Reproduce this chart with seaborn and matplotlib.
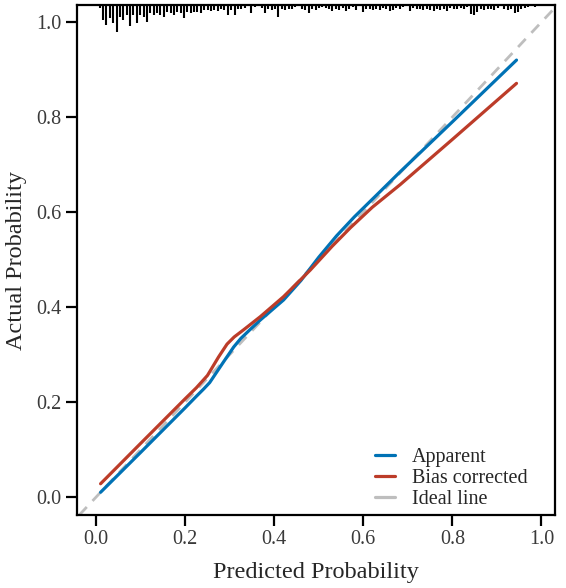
import numpy as np
import pandas as pd
import matplotlib
matplotlib.use('Agg')
import matplotlib.pyplot as plt
import seaborn as sns

# ── Data ─────────────────────────────────────────────────────────────────────
apparent_x = [0.010, 0.100, 0.200, 0.225, 0.242, 0.255, 0.285, 0.309, 0.325,
              0.345, 0.369, 0.421, 0.460, 0.500, 0.540, 0.580, 0.630, 0.683,
              0.800, 0.944]
apparent_y = [0.010, 0.094, 0.188, 0.212, 0.228, 0.241, 0.283, 0.316, 0.334,
              0.352, 0.373, 0.415, 0.456, 0.505, 0.550, 0.590, 0.636, 0.685,
              0.790, 0.920]

bias_x = [0.010, 0.100, 0.200, 0.225, 0.250, 0.275, 0.294, 0.310, 0.331,
          0.350, 0.369, 0.421, 0.481, 0.530, 0.571, 0.620, 0.683, 0.800,
          0.944]
bias_y = [0.028, 0.113, 0.207, 0.230, 0.256, 0.295, 0.322, 0.337, 0.352,
          0.366, 0.380, 0.422, 0.478, 0.528, 0.567, 0.610, 0.658, 0.753,
          0.871]

# spike histogram of predicted probabilities (top rug), bins from 0.008 to 0.985
rug_counts = [3, 15, 20, 13, 18, 27, 12, 15, 10, 21, 10, 18, 10, 12, 17, 8,
              10, 8, 10, 12, 7, 8, 10, 7, 8, 13, 7, 8, 7, 7, 8,
              5, 5, 6, 5, 6, 4, 5, 10, 5, 10, 4, 4, 3, 0, 8, 2, 0, 3, 8,
              4, 5, 4, 12, 4, 5, 4, 4, 2, 0, 4, 5, 8, 4, 5, 3, 2, 3, 4,
              6, 4, 5, 3, 6, 4, 2, 5, 0, 7, 4, 4, 5, 4, 5, 3, 4, 6, 5, 3,
              4, 2, 0, 6, 3, 4, 4, 5, 4, 5, 6, 4, 5, 4, 6, 3, 4,
              4, 3, 4, 2, 9, 10, 7, 4, 5, 4, 4, 5, 3, 0, 4, 5, 4, 8, 7, 4,
              3, 2, 0, 2]
rug_lo, rug_hi = 0.008, 0.985

labels = ['Apparent', 'Bias corrected', 'Ideal line']
colors = ['#0072B5', '#BC3C29', '#BEBEBE']

# ── Plot ─────────────────────────────────────────────────────────────────────
sns.set_theme(style='ticks')
plt.rcParams['font.family'] = ['Liberation Serif', 'DejaVu Serif']

df = pd.concat([
    pd.DataFrame({'x': apparent_x, 'y': apparent_y, 'curve': labels[0]}),
    pd.DataFrame({'x': bias_x, 'y': bias_y, 'curve': labels[1]}),
])

fig, ax = plt.subplots(figsize=(5.66, 5.88), dpi=100)
fig.subplots_adjust(left=0.136, right=0.981, top=0.9915, bottom=0.124)

xlim = (-0.043, 1.031)
ylim = (-0.038, 1.036)
ax.set_xlim(*xlim)
ax.set_ylim(*ylim)

ax.axline((0, 0), slope=1, color=colors[2], lw=2.0, ls=(0, (4, 3)), zorder=1)
sns.lineplot(data=df, x='x', y='y', hue='curve', sort=False,
             palette=colors[:2], lw=2.3, ax=ax, legend=False, zorder=3)

# rug / spike histogram along the top
rug_x = np.linspace(rug_lo, rug_hi, len(rug_counts))
rug_len = np.array(rug_counts) / max(rug_counts) * 0.057
ax.vlines(rug_x, ylim[1] - rug_len, ylim[1], color='black', lw=1.5, zorder=2)

ax.set_xticks(np.arange(0, 1.01, 0.2))
ax.set_yticks(np.arange(0, 1.01, 0.2))
ax.xaxis.set_major_formatter(matplotlib.ticker.FormatStrFormatter('%.1f'))
ax.yaxis.set_major_formatter(matplotlib.ticker.FormatStrFormatter('%.1f'))
ax.tick_params(direction='out', length=8, width=1.6, labelsize=14.5,
               labelcolor='#3a3a3a', color='black', pad=3)
for s in ax.spines.values():
    s.set_visible(True)
    s.set_linewidth(1.6)
    s.set_color('black')

ax.set_xlabel('Predicted Probability', fontsize=17.5, labelpad=9)
ax.set_ylabel('Actual Probability', fontsize=17.5, labelpad=7)

handles = [plt.Line2D([], [], color=c, lw=2.3) for c in colors]
ax.legend(handles, labels, loc='lower right', frameon=False, fontsize=14.5,
          handlelength=1.0, handletextpad=0.8, labelspacing=0.1,
          borderaxespad=0.4, bbox_to_anchor=(1 - 12 / 478, -10 / 510))

fig.savefig('out.png', dpi=100)
